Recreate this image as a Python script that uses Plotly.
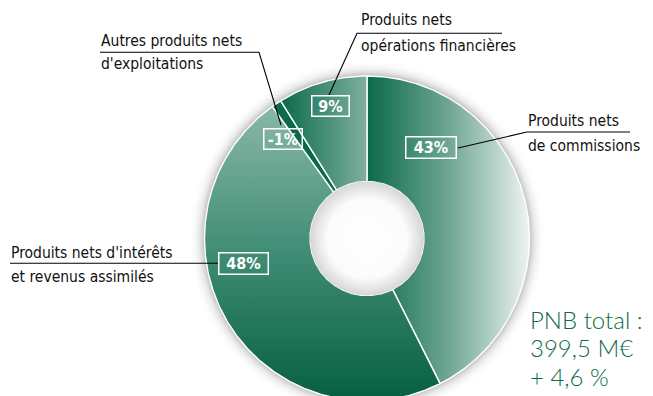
import numpy as np
import plotly.graph_objects as go

# Répartition du PNB (en % du total)
categories = [
    "Produits nets de commissions",
    "Produits nets d'intérêts et revenus assimilés",
    "Autres produits nets d'exploitations",
    "Produits nets opérations financières",
]
shares = [43, 48, -1, 9]
pct_labels = ["43%", "48%", "-1%", "9%"]
label_lines = [
    ["Produits nets", "de commissions"],
    ["Produits nets d'intérêts", "et revenus assimilés"],
    ["Autres produits nets", "d'exploitations"],
    ["Produits nets", "opérations financières"],
]
total_lines = ["PNB total :", "399,5 M€", "+ 4,6 %"]

# Geometry of the ring (axes are laid out in pixel units)
W, H = 653, 396
CX, CY = 367.0, 238.5
R_OUT, R_IN = 162.5, 57.0
SHADOW = 16.0

LABEL_FONT = "Liberation Sans Narrow, DejaVu Sans Condensed, Arial Narrow, sans-serif"
GREEN_TEXT = "#0d6a49"

fills = [
    dict(type="horizontal", colorscale=[[0, "#0b6a4b"], [0.5, "#6ea692"], [1, "#eef4f1"]]),
    dict(type="vertical", colorscale=[[0, "#8ab8a8"], [0.5, "#3f8c74"], [1, "#065f40"]]),
    None,
    dict(type="horizontal", colorscale=[[0, "#0b6a4b"], [1, "#7fb09f"]]),
]
solid = ["#0b6a4b", "#3f8c74", "#0c6a4c", "#0b6a4b"]


def ring_points(a0, a1, r0, r1, step=0.5):
    """Annular wedge between angles a0..a1 (degrees, clockwise from 12 o'clock)."""
    n = max(int(abs(a1 - a0) / step), 2)
    t_out = np.radians(np.linspace(a0, a1, n))
    t_in = t_out[::-1]
    xs = np.concatenate([CX + r1 * np.sin(t_out), CX + r0 * np.sin(t_in)])
    ys = np.concatenate([CY - r1 * np.cos(t_out), CY - r0 * np.cos(t_in)])
    return np.append(xs, xs[0]), np.append(ys, ys[0])


def circle_points(r, n=360):
    t = np.radians(np.linspace(0, 360, n + 1))
    return CX + r * np.sin(t), CY - r * np.cos(t)


fig = go.Figure()

# soft halo around the ring
sx, sy = circle_points(R_OUT + SHADOW)
k = R_OUT / (R_OUT + SHADOW)
fig.add_trace(go.Scatter(
    x=sx, y=sy, mode="lines", fill="toself", line=dict(width=0),
    fillgradient=dict(type="radial", colorscale=[
        [0, "rgba(150,150,150,0.6)"], [k, "rgba(150,150,150,0.6)"],
        [k + (1 - k) * 0.35, "rgba(185,185,185,0.3)"], [1, "rgba(255,255,255,0)"]]),
    hoverinfo="skip", showlegend=False))

# slices
sizes = np.abs(np.array(shares, dtype=float))
edges = np.concatenate([[0], np.cumsum(sizes)]) / sizes.sum() * 360.0
for i, cat in enumerate(categories):
    xs, ys = ring_points(edges[i], edges[i + 1], R_IN, R_OUT)
    tr = dict(x=xs, y=ys, mode="lines", fill="toself",
              line=dict(color="white", width=1.4),
              name=cat, hoverinfo="name", showlegend=False)
    if fills[i] is not None:
        g = dict(fills[i])
        if g["type"] == "horizontal":
            g["start"], g["stop"] = float(xs.min()), float(xs.max())
        else:
            g["start"], g["stop"] = float(ys.min()), float(ys.max())
        tr["fillgradient"] = g
    else:
        tr["fillcolor"] = solid[i]
    fig.add_trace(go.Scatter(**tr))

# centre hole with a slight inner shade
hx, hy = circle_points(R_IN)
fig.add_trace(go.Scatter(
    x=hx, y=hy, mode="lines", fill="toself", line=dict(width=0),
    fillgradient=dict(type="radial", colorscale=[
        [0, "#ffffff"], [0.7, "#fbfbfb"], [1, "#d6d6d6"]]),
    hoverinfo="skip", showlegend=False))

# leader lines
leaders = [
    ([458, 527, 630], [148, 132, 132]),
    ([218, 10], [263.3, 263.3]),
    ([281, 259, 100], [125, 52.3, 52.3]),
    ([329, 357, 502], [95, 33.3, 33.3]),
]
for lx, ly in leaders:
    fig.add_trace(go.Scatter(x=lx, y=ly, mode="lines",
                             line=dict(color="black", width=1.1),
                             hoverinfo="skip", showlegend=False))

annotations = []

# percentage boxes
boxes = [
    (431.4, 147.5, 49, 20),
    (243.0, 263.0, 48, 20),
    (282.5, 138.5, 37, 19),
    (330.0, 105.5, 36, 19),
]
for txt, (bx, by, bw, bh) in zip(pct_labels, boxes):
    annotations.append(dict(
        x=bx, y=by, xref="x", yref="y", text=f"<b>{txt}</b>", showarrow=False,
        xanchor="center", yanchor="middle", width=bw, height=bh, borderpad=0,
        bordercolor="white", borderwidth=1.5,
        font=dict(family=LABEL_FONT, size=16, color="white")))

# category labels, one annotation per line
label_pos = [(526, 120.5, 146), (9, 252.5, 276.5), (99, 41, 64), (359, 20, 46)]
for lines, (lx, y1, y2) in zip(label_lines, label_pos):
    for txt, ty in zip(lines, (y1, y2)):
        annotations.append(dict(
            x=lx, y=ty, xref="x", yref="y", text=txt, showarrow=False,
            xanchor="left", yanchor="middle",
            font=dict(family=LABEL_FONT, size=15.5, color="#111111")))

# total block
for txt, ty in zip(total_lines, (319, 347, 376)):
    annotations.append(dict(
        x=528, y=ty, xref="x", yref="y", text=txt, showarrow=False,
        xanchor="left", yanchor="middle",
        font=dict(family="Lato, Open Sans, sans-serif", size=24,
                  color=GREEN_TEXT, weight=300)))

fig.update_layout(
    width=W, height=H, autosize=False,
    margin=dict(l=0, r=0, t=0, b=0),
    paper_bgcolor="white", plot_bgcolor="white",
    xaxis=dict(range=[0, W], visible=False, fixedrange=True),
    yaxis=dict(range=[H, 0], visible=False, fixedrange=True),
    annotations=annotations,
)

fig.write_html("out.html")
